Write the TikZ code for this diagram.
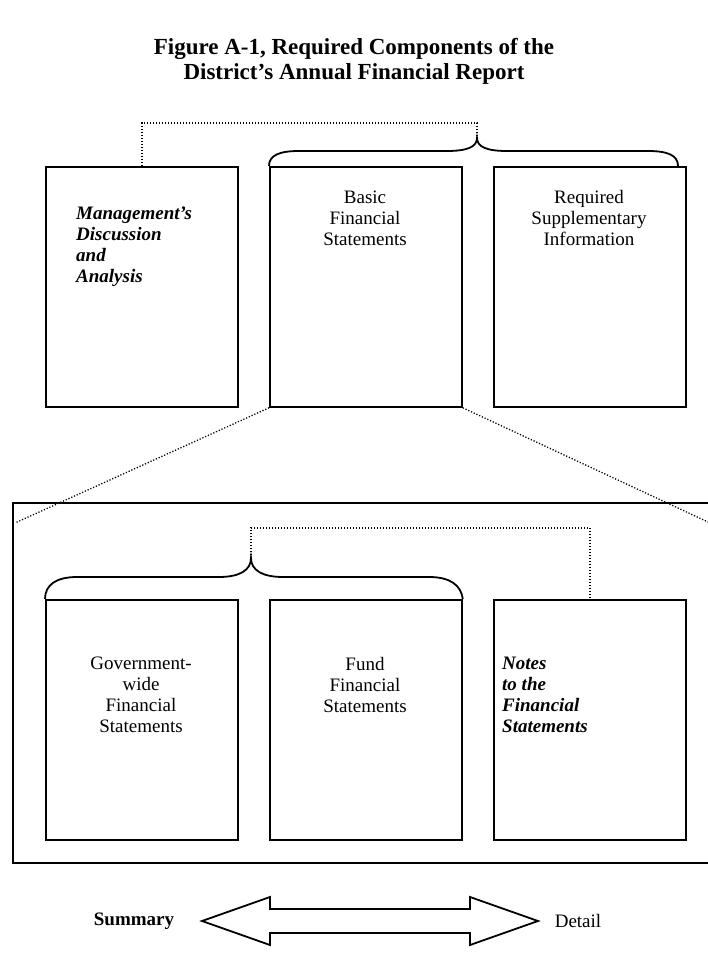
\documentclass[tikz,border=0pt]{standalone}
\usepackage{fontspec}
\setmainfont{Liberation Serif}
\begin{document}
\begin{tikzpicture}[x=1pt,y=-1pt,
  box/.style={draw, line width=1.8pt, minimum width=192pt, minimum height=240pt, inner sep=0pt, anchor=north west},
  txt/.style={font=\fontsize{19}{21}\selectfont, align=center, inner sep=0pt},
  bitxt/.style={font=\bfseries\itshape\fontsize{19}{21}\selectfont, align=left, inner sep=0pt, anchor=west},
  brace/.style={draw, line width=1.8pt},
  dot/.style={draw, line width=1.3pt, dash pattern=on 1.2pt off 1.8pt},
  frame/.style={draw, line width=1.8pt},
  darrow/.style={draw, line width=1.8pt, line join=miter}
]
\useasboundingbox (0,0) rectangle (708,955);

% title
\node[font=\bfseries\fontsize{23}{25}\selectfont, align=center, inner sep=0pt] (title) at (354,61)
  {Figure A-1, Required Components of the\\District’s Annual Financial Report};

% top boxes
\node[box] (mda) at (45,166) {};
\node[box] (bfs) at (269,166) {};
\node[box] (rsi) at (493,166) {};

\node[bitxt] (mdat) at (76,247) {Management’s\\Discussion\\and\\Analysis};
\node[txt] (bfst) at (365,218) {Basic\\Financial\\Statements};
\node[txt] (rsit) at (589,218) {Required\\Supplementary\\Information};

% top brace
\coordinate (tb) at (477,138);
\draw[brace] (bfs.north west) .. controls (269,155) and (280,151) .. (299,151) -- (447,151)
  .. controls (467,151) and (477,147) .. (tb)
  .. controls (477,147) and (487,151) .. (507,151) -- (648,151)
  .. controls (667,151) and (678,155) .. (678,166);
\draw[dot] (mda.north) -- ++(0,-43) -| (tb);

% zoom lines
\coordinate (dl) at (15,523);
\coordinate (dr) at (708,522);
\draw[dot] (bfs.south west) -- (dl);
\draw[dot] (bfs.south east) -- (dr);

% enclosing frame (open on the right)
\draw[frame] (712,503) -- (13,503) -- (13,863) -- (712,863);

% lower boxes
\node[box] (gw) at (45,599) {};
\node[box] (ffs) at (269,599) {};
\node[box] (nfs) at (493,599) {};

\node[txt] (gwt) at (141,695) {Government-\\wide\\Financial\\Statements};
\node[txt] (ffst) at (365,685) {Fund\\Financial\\Statements};
\node[bitxt] (nfst) at (502,695) {Notes\\to the\\Financial\\Statements};

% lower brace
\coordinate (lb) at (251,558);
\draw[brace] (gw.north west) .. controls (45,585) and (56,577) .. (77,577) -- (219,577)
  .. controls (240,577) and (251,570) .. (lb)
  .. controls (251,570) and (262,577) .. (283,577) -- (429,577)
  .. controls (450,577) and (461,585) .. (ffs.north east);
\draw[dot] (lb) -- ++(0,-30) -| (nfs.north);

% bottom scale
\node[font=\bfseries\fontsize{19}{21}\selectfont, inner sep=0pt] (sum) at (134,921) {Summary};
\node[font=\fontsize{19}{21}\selectfont, inner sep=0pt] (det) at (578,921) {Detail};
\draw[darrow] (202,921) -- (270,897) -- (270,909) -- (470,909) -- (470,897) -- (538,921)
  -- (470,945) -- (470,933) -- (270,933) -- (270,945) -- cycle;
\end{tikzpicture}
\end{document}
